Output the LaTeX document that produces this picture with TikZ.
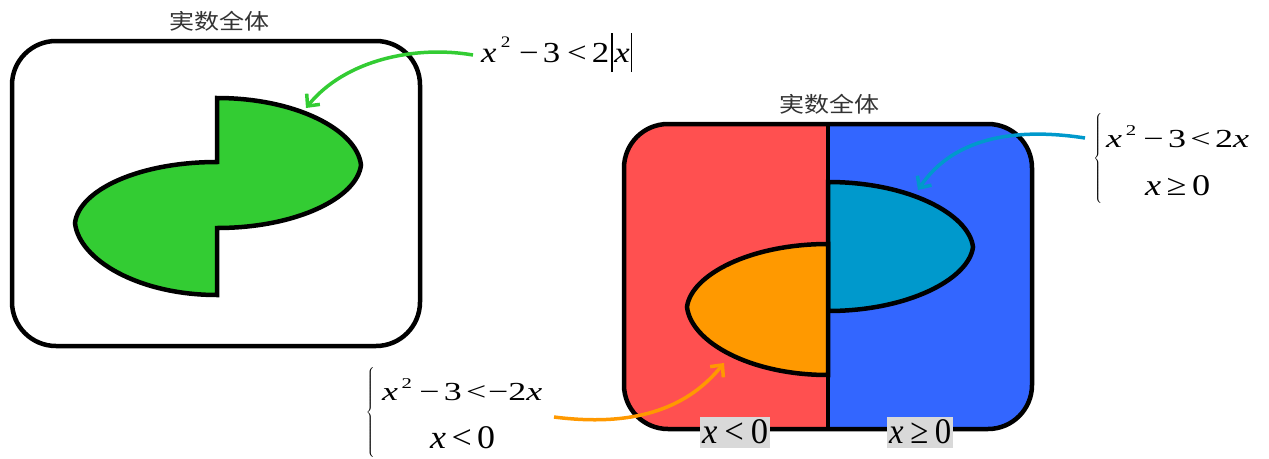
\documentclass[tikz,border=0pt]{standalone}
\usepackage{fontspec}
\setmainfont{Liberation Serif}
\newfontfamily\cjk{Noto Sans CJK SC}
\usetikzlibrary{arrows.meta}
\definecolor{cgreen}{HTML}{33CC33}
\definecolor{cred}{HTML}{FF5050}
\definecolor{cblue}{HTML}{3366FF}
\definecolor{cteal}{HTML}{0099CC}
\definecolor{corange}{HTML}{FF9900}
\definecolor{labgray}{HTML}{D9D9D9}
\definecolor{titlegray}{HTML}{333333}
\newcommand\fitw[2]{\resizebox{#1}{\height}{#2}}
\newcommand\supt[2]{\raisebox{#1}{\fontsize{#2}{#2}\selectfont 2}}
\newcommand\absbar{\rule[-10pt]{1.2pt}{39pt}}
\tikzset{
  frame/.style={draw=black, line width=4.5pt, rounded corners=44pt},
  lobe/.style={draw=black, line width=4.5pt},
  divider/.style={draw=black, line width=4.5pt},
  title/.style={inner sep=0pt, text=titlegray, font={\cjk\fontsize{21.5}{21.5}\selectfont}},
  eqn/.style={inner sep=0pt, anchor=base west},
  bracenode/.style={inner sep=0pt, font={\fontsize{14}{14}\selectfont}},
  lab/.style={fill=labgray, inner xsep=2pt, inner ysep=2pt, text depth=3pt, anchor=base west, font={\fontsize{36}{36}\selectfont}},
  conn/.style={line width=3.5pt, -{Straight Barb[length=9pt,width=17pt]}},
}
\begin{document}
\begin{tikzpicture}[x=1pt,y=-1pt]
\useasboundingbox (0,0) rectangle (1269,458);

% ---------- left diagram ----------
\node[title] (t1) at (219,21) {\fitw{100pt}{実数全体}};
\draw[frame] (12,41) rectangle (420,346);
\draw[lobe, fill=cgreen] (217,98) .. controls (296,98) and (357,130) .. (361,165)
  .. controls (357,198) and (296,228) .. (217,228) -- (217,295)
  .. controls (139,295) and (79,260) .. (75,223)
  .. controls (79,190) and (139,162) .. (217,162) -- cycle;
\coordinate (gtip) at (306,108);

\node[eqn, font={\fontsize{29}{29}\selectfont}] (e1) at (481,62)
  {\fitw{151pt}{\textit{x}\hspace{0.12em}\supt{15pt}{16}\hspace{0.25em}−\hspace{0.12em}3\hspace{0.2em}<\hspace{0.15em}2\hspace{0.05em}\absbar\hspace{0.05em}\textit{x}\hspace{0.03em}\absbar}};
\coordinate (gstart) at (473,55);
\draw[conn, draw=cgreen] (gstart) .. controls (415,45) and (345,60) .. (gtip);

% ---------- right diagram ----------
\node[title] (t2) at (829,104) {\fitw{100pt}{実数全体}};
\begin{scope}
  \clip[rounded corners=44pt] (624,124) rectangle (1032,429);
  \fill[cred] (600,100) rectangle (828,450);
  \fill[cblue] (828,100) rectangle (1050,450);
\end{scope}
\draw[lobe, fill=cteal] (828,182) .. controls (908,182) and (969,214) .. (973,247)
  .. controls (969,279) and (908,311) .. (828,311) -- cycle;
\draw[lobe, fill=corange] (828,244) .. controls (750,244) and (691,275) .. (687,307)
  .. controls (691,342) and (750,375) .. (828,375) -- cycle;
\draw[divider] (828,124) -- (828,429);
\draw[frame] (624,124) rectangle (1032,429);
\coordinate (btip) at (918,190);
\coordinate (otip) at (724,363);

% bottom labels
\node[lab] (l1) at (700,443) {\fitw{66pt}{\textit{x}\hspace{0.2em}<\hspace{0.2em}0}};
\node[lab] (l2) at (887,443) {\fitw{62pt}{\textit{x}\hspace{0.2em}≥\hspace{0.2em}0}};

% right system
\node[bracenode] (brR) at (1098.5,159) {$\left\{\vrule height 42pt depth 42pt width 0pt\right.$};
\node[eqn, font={\fontsize{26}{26}\selectfont}] (r1) at (1106,147)
  {\fitw{143pt}{\textit{x}\hspace{0.1em}\supt{12pt}{15}\hspace{0.2em}−\hspace{0.12em}3\hspace{0.12em}<\hspace{0.12em}2\textit{x}}};
\node[eqn, font={\fontsize{30}{30}\selectfont}] (r2) at (1145,195)
  {\fitw{65pt}{\textit{x}\hspace{0.15em}≥\hspace{0.15em}0}};
\coordinate (bstart) at (1085,138);
\draw[conn, draw=cteal] (bstart) .. controls (1020,128) and (955,135) .. (btip);

% bottom-left system
\node[bracenode] (brL) at (371,412.5) {$\left\{\vrule height 42pt depth 42pt width 0pt\right.$};
\node[eqn, font={\fontsize{26}{26}\selectfont}] (b1) at (382,400)
  {\fitw{160pt}{\textit{x}\hspace{0.1em}\supt{12pt}{15}\hspace{0.2em}−\hspace{0.12em}3\hspace{0.12em}<\hspace{0.05em}−2\textit{x}}};
\node[eqn, font={\fontsize{33}{33}\selectfont}] (b2) at (430,448)
  {\fitw{65pt}{\textit{x}\hspace{0.15em}<\hspace{0.15em}0}};
\coordinate (ostart) at (554,417);
\draw[conn, draw=corange] (ostart) .. controls (640,428) and (690,405) .. (otip);
\end{tikzpicture}
\end{document}
